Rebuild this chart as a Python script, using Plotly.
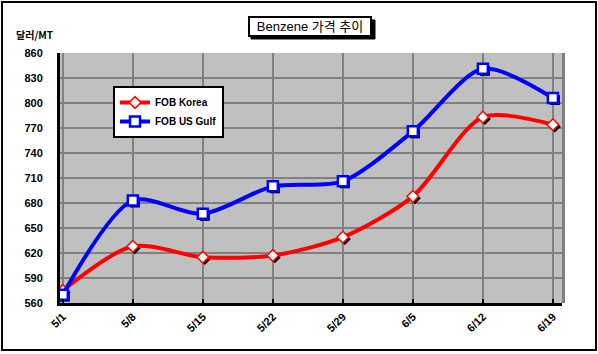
import plotly.graph_objects as go

dates = ["5/1", "5/8", "5/15", "5/22", "5/29", "6/5", "6/12", "6/19"]
fob_korea = [575, 628, 615, 617, 639, 688, 783, 774]
fob_us_gulf = [570, 683, 667, 700, 706, 766, 841, 806]
y_ticks = [560, 590, 620, 650, 680, 710, 740, 770, 800, 830, 860]

idx = list(range(len(dates)))

# geometry (pixels)
L, R, T, B = 60, 36, 53, 51
W, H = 598, 354
pw, ph = W - L - R, H - T - B
xr = [-0.04, 7.13]
yr = [560, 860]
ppx = pw / (xr[1] - xr[0])
ppy = ph / (yr[1] - yr[0])
dx = 2 / ppx
dy = 2 / ppy

fig = go.Figure()

# invisible trace anchoring base axes (grid / ticks)
fig.add_trace(go.Scatter(x=idx, y=fob_korea, mode="markers", xaxis="x", yaxis="y",
                         marker=dict(opacity=0), showlegend=False, hoverinfo="skip"))

# shadows (offset 2px right/down)
for vals, sym, sz in [(fob_korea, "diamond", 9), (fob_us_gulf, "square", 10)]:
    fig.add_trace(go.Scatter(x=idx, y=vals, mode="markers", xaxis="x2", yaxis="y2",
                             marker=dict(symbol=sym, size=sz, color="black"),
                             showlegend=False, hoverinfo="skip"))

fig.add_trace(go.Scatter(x=idx, y=fob_korea, name="FOB Korea", mode="lines+markers",
                         xaxis="x3", yaxis="y3",
                         line=dict(color="#FF0000", width=4, shape="spline", smoothing=0.8),
                         marker=dict(symbol="diamond", size=9, color="white",
                                     line=dict(color="#FF0000", width=1.5))))
fig.add_trace(go.Scatter(x=idx, y=fob_us_gulf, name="FOB US Gulf", mode="lines+markers",
                         xaxis="x3", yaxis="y3",
                         line=dict(color="#0000FF", width=4, shape="spline", smoothing=0.8),
                         marker=dict(symbol="square", size=10, color="white",
                                     line=dict(color="#0000FF", width=2.5))))

tickfont = dict(family="Liberation Sans, Arial", size=11, color="black", weight="bold")

fig.update_layout(
    width=W, height=H,
    margin=dict(l=L, r=R, t=T, b=B),
    paper_bgcolor="white",
    plot_bgcolor="#C0C0C0",
    xaxis=dict(range=xr, tickvals=idx, ticktext=dates, tickangle=-45,
               showgrid=True, gridcolor="#808080", gridwidth=2,
               showline=True, linecolor="black", linewidth=3,
               ticks="inside", ticklen=4, tickcolor="black", tickwidth=2,
               tickfont=tickfont, zeroline=False),
    yaxis=dict(range=yr, tickvals=y_ticks, showgrid=True, gridcolor="#808080", gridwidth=2,
               showline=True, linecolor="black", linewidth=3, ticks="",
               ticklabelstandoff=12, tickfont=tickfont, zeroline=False),
    xaxis2=dict(range=[xr[0] - dx, xr[1] - dx], overlaying="x", visible=False),
    yaxis2=dict(range=[yr[0] + dy, yr[1] + dy], overlaying="y", visible=False),
    xaxis3=dict(range=xr, overlaying="x", visible=False),
    yaxis3=dict(range=yr, overlaying="y", visible=False),
    legend=dict(x=(113 - L) / pw, y=(H - B - 86) / ph, xanchor="left", yanchor="top",
                bgcolor="white", bordercolor="black", borderwidth=2,
                font=dict(family="Liberation Sans, Arial", size=10, color="black", weight="bold"),
                tracegroupgap=0, itemwidth=30),
    showlegend=True,
)

def px_x(p):
    return (p - L) / pw

def px_y(p):
    return (H - B - p) / ph

shapes = [
    # outer frame
    dict(type="rect", xref="paper", yref="paper", x0=px_x(2), x1=px_x(596), y0=px_y(350), y1=px_y(2),
         line=dict(color="black", width=2), layer="above"),
    # right gray edge
    dict(type="line", xref="paper", yref="paper", x0=1.003, x1=1.003, y0=0, y1=1,
         line=dict(color="#808080", width=3), layer="above"),
    # title shadow
    dict(type="rect", xref="paper", yref="paper", x0=px_x(251), x1=px_x(375), y0=px_y(39), y1=px_y(20),
         line=dict(color="black", width=1), fillcolor="black", layer="above"),
]
fig.update_layout(shapes=shapes)

fig.add_annotation(text="Benzene 가격 추이", xref="paper", yref="paper",
                   x=px_x(310), y=px_y(27), xanchor="center", yanchor="middle",
                   showarrow=False, bgcolor="white", bordercolor="black", borderwidth=2,
                   borderpad=1, width=118, height=15,
                   font=dict(family="Liberation Sans, Noto Sans CJK KR", size=13, color="black"))
fig.add_annotation(text="달러/MT", xref="paper", yref="paper",
                   x=px_x(14), y=px_y(35), xanchor="left", yanchor="middle",
                   showarrow=False,
                   font=dict(family="Noto Sans CJK KR, Liberation Sans", size=10, color="black", weight="bold"))

fig.write_html("out.html")
